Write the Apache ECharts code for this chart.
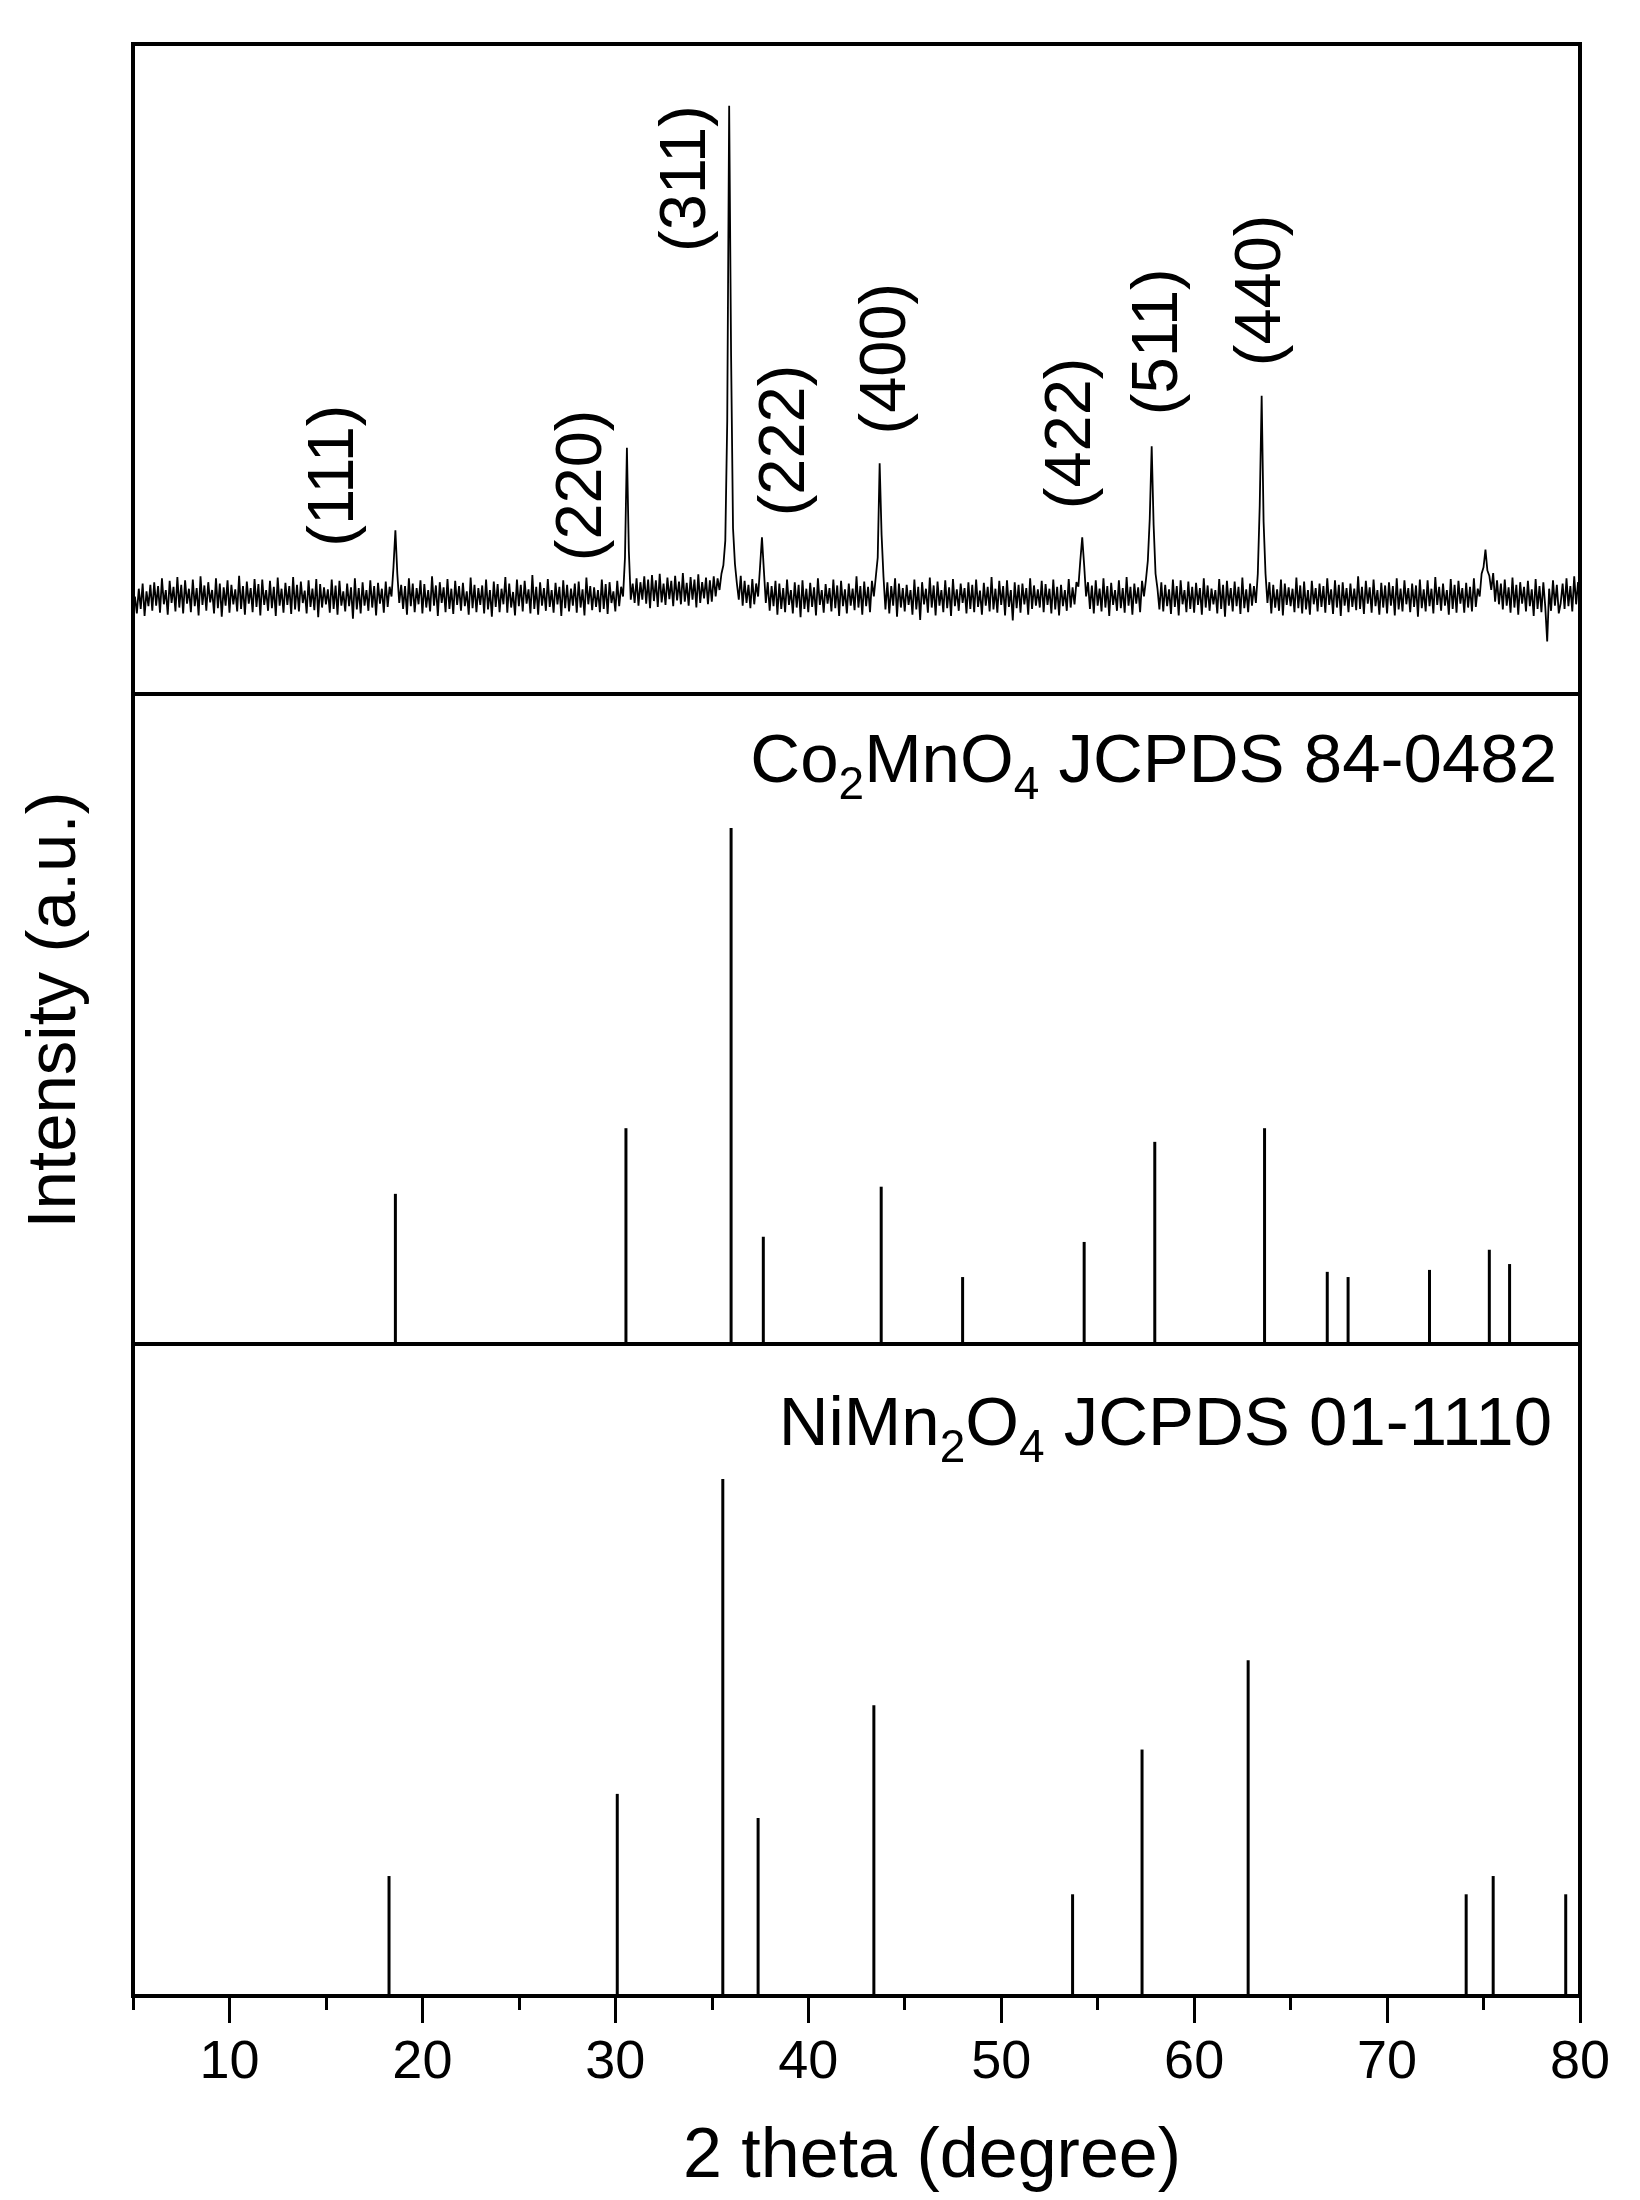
<!DOCTYPE html>
<html><head><meta charset="utf-8">
<script src="https://cdn.jsdelivr.net/npm/echarts@6/dist/echarts.min.js"></script>
<style>html,body{margin:0;padding:0;background:#fff}#c{width:1640px;height:2200px}</style>
</head><body><div id="c"></div>
<script>
// ---- measured XRD pattern (2theta from 5 to 80, step 0.1) ----
const thetaStart = 5, thetaStep = 0.1;
const sampleIntensity = [
118,150,124,162,131,170,120,158,135,168,
128,172,136,166,125,178,138,160,122,174,
140,165,127,180,133,168,124,175,139,162,
126,176,135,163,121,181,137,167,128,172,
141,160,124,178,132,170,119,164,136,175,
125,168,138,161,127,182,131,166,122,173,
139,163,126,177,134,169,121,176,137,160,
128,174,132,165,120,179,136,162,125,171,
137,166,123,180,130,168,127,173,140,159,
124,175,134,162,129,177,118,169,133,164,
138,161,125,176,131,167,122,174,136,158,
127,170,135,164,116,178,130,163,124,172,
136,160,128,175,133,166,121,171,139,162,
125,173,134,165,150,195,252,185,140,168,
131,166,122,178,135,170,126,163,138,175,
124,169,133,160,127,181,136,167,120,172,
140,164,126,177,131,162,123,174,137,166,
128,171,135,158,122,179,132,168,126,163,
137,167,124,176,130,160,119,173,134,169,
126,162,138,180,125,170,133,157,121,176,
135,168,127,174,139,161,124,183,131,165,
122,172,136,163,128,177,134,160,125,171,
138,165,120,175,132,168,127,162,136,170,
125,173,133,161,121,179,138,166,129,164,
134,160,126,176,131,169,123,172,140,158,
127,174,135,165,150,210,379,220,145,170,
140,178,136,172,145,181,139,176,132,183,
143,175,134,185,141,170,137,179,146,174,
135,182,144,173,138,186,142,171,136,180,
145,176,133,184,140,172,147,179,138,175,
142,181,150,178,160,185,198,236,420,905,
520,255,200,170,145,182,136,174,140,168,
132,177,138,170,150,195,241,190,140,172,
128,166,135,174,122,170,131,163,126,176,
137,160,124,172,133,168,118,175,131,162,
126,171,134,164,121,178,137,160,125,169,
139,163,127,176,132,167,120,174,135,161,
124,170,136,162,129,181,133,166,122,173,
135,165,126,174,150,180,210,355,245,180,
130,172,124,166,136,178,119,170,133,163,
127,168,137,160,122,176,130,165,114,172,
138,162,125,179,133,167,121,173,136,160,
126,175,132,164,120,177,135,161,128,170,
140,163,124,172,131,168,126,176,134,159,
122,171,136,165,127,180,130,162,125,174,
137,166,121,175,134,160,113,172,132,168,
125,170,138,163,122,178,131,167,136,161,
133,174,126,169,137,162,124,176,130,165,
121,168,135,160,128,177,133,164,138,172,
165,205,241,198,150,172,131,167,124,175,
136,162,127,178,133,166,120,171,137,160,
128,175,132,163,125,180,136,165,122,170,
139,164,126,174,150,175,205,270,381,260,
185,162,130,172,127,168,135,161,123,176,
134,166,121,175,138,160,126,173,131,165,
125,171,137,163,122,178,133,167,128,162,
138,160,124,177,131,168,119,174,136,163,
127,173,135,165,123,179,132,161,126,170,
136,166,140,185,290,459,265,185,140,172,
124,168,133,161,128,176,121,170,137,164,
135,162,126,179,132,167,124,173,130,160,
122,174,138,163,127,170,134,166,125,178,
137,161,123,175,133,168,120,172,136,163,
126,170,134,162,129,181,131,165,123,174,
139,164,125,176,135,160,122,171,133,167,
124,172,136,166,121,178,130,162,127,175,
138,163,126,170,134,167,119,176,132,161,
127,175,135,162,124,180,137,165,128,170,
136,160,122,177,131,168,125,174,139,163,
125,171,133,165,127,178,134,162,150,185,
195,222,190,182,160,186,142,175,138,170,
130,176,136,164,125,179,133,168,122,172,
139,165,127,174,135,161,120,177,131,166,
126,172,134,81,162,128,175,136,168,124,
140,170,131,178,135,166,127,181,138,172,
150
];

// ---- peak indices (annotations) ----
const hklLabels = ['(111)', '(220)', '(311)', '(222)', '(400)', '(422)', '(511)', '(440)'];
const hklX = [15.49, 28.34, 33.73, 38.86, 44.09, 53.68, 58.19, 63.52];
const hklY = [336, 321, 793, 390, 516, 401, 542, 621];

// ---- reference patterns ----
const co2mno4Pos = [18.6, 30.55, 36.0, 37.67, 43.78, 48.0, 54.3, 57.96, 63.65, 66.9, 67.98, 72.2, 75.3, 76.35];
const co2mno4Int = [23.1, 33.2, 79.4, 16.5, 24.2, 10.3, 15.7, 31.1, 33.2, 11.1, 10.3, 11.4, 14.5, 12.3];
const nimn2o4Pos = [18.27, 30.1, 35.57, 37.4, 43.4, 53.7, 57.3, 62.8, 74.1, 75.5, 79.26];
const nimn2o4Int = [18.4, 31.0, 79.3, 27.3, 44.6, 15.6, 37.8, 51.5, 15.6, 18.4, 15.6];

// ---- axis ticks ----
const majorTicks = [10, 20, 30, 40, 50, 60, 70, 80];
const minorTicks = [5, 15, 25, 35, 45, 55, 65, 75];

const F = '"Liberation Sans", Arial, Helvetica, sans-serif';
const sampleData = sampleIntensity.map((v, i) => [+(thetaStart + i * thetaStep).toFixed(2), v]);
const labelData = hklLabels.map((n, i) => ({ name: n, value: [hklX[i], hklY[i]] }));
const coData = co2mno4Pos.map((p, i) => [p, co2mno4Int[i]]);
const niData = nimn2o4Pos.map((p, i) => [p, nimn2o4Int[i]]);

const gridBase = { left: 133, right: 60, show: true, borderColor: '#000', borderWidth: 4, backgroundColor: 'transparent' };
const hiddenX = (g) => ({ type: 'value', gridIndex: g, min: 5, max: 80, show: false });

const chart = echarts.init(document.getElementById('c'), null, { renderer: 'canvas' });
chart.setOption({
  animation: false,
  backgroundColor: '#fff',
  grid: [
    Object.assign({ top: 44, height: 650 }, gridBase),
    Object.assign({ top: 694, height: 650 }, gridBase),
    Object.assign({ top: 1344, height: 652 }, gridBase)
  ],
  xAxis: [
    hiddenX(0), hiddenX(1),
    { type: 'value', gridIndex: 2, min: 5, max: 80, position: 'bottom',
      axisLine: { show: false }, splitLine: { show: false },
      axisTick: { show: true, length: 27, inside: false, customValues: majorTicks, lineStyle: { color: '#000', width: 3 } },
      axisLabel: { show: true, customValues: majorTicks, margin: 40, fontSize: 54, fontFamily: F, color: '#000' } },
    { type: 'value', gridIndex: 2, min: 5, max: 80, position: 'bottom', offset: 0,
      axisLine: { show: false }, splitLine: { show: false },
      axisTick: { show: true, length: 14, inside: false, customValues: minorTicks, lineStyle: { color: '#000', width: 3 } },
      axisLabel: { show: false } }
  ],
  yAxis: [
    { type: 'value', gridIndex: 0, min: 0, max: 1000, show: false },
    { type: 'value', gridIndex: 1, min: 0, max: 100, show: false },
    { type: 'value', gridIndex: 2, min: 0, max: 100, show: false }
  ],
  series: [
    { type: 'line', xAxisIndex: 0, yAxisIndex: 0, data: sampleData, showSymbol: false, symbol: 'none',
      sampling: 'none', lineStyle: { color: '#000', width: 1.8 }, z: 3 },
    { type: 'scatter', xAxisIndex: 0, yAxisIndex: 0, data: labelData, symbolSize: 1,
      itemStyle: { opacity: 0 },
      label: { show: true, position: 'inside', rotate: 90, formatter: '{b}', fontSize: 65, fontFamily: F, color: '#000', opacity: 1 },
      z: 4 },
    { type: 'bar', xAxisIndex: 1, yAxisIndex: 1, data: coData, barWidth: 3, itemStyle: { color: '#000' } },
    { type: 'bar', xAxisIndex: 2, yAxisIndex: 2, data: niData, barWidth: 3, itemStyle: { color: '#000' } }
  ],
  graphic: [
    { type: 'text', x: 1557, y: 763, z: 10,
      style: { text: '{m|Co}{s|2}{m|MnO}{s|4}{m| JCPDS 84-0482}', align: 'right', verticalAlign: 'middle',
        rich: { m: { fontSize: 69, fontFamily: F, fill: '#000', lineHeight: 80 },
                s: { fontSize: 46, fontFamily: F, fill: '#000', padding: [46, 0, 0, 0] } } } },
    { type: 'text', x: 1552, y: 1426, z: 10,
      style: { text: '{m|NiMn}{s|2}{m|O}{s|4}{m| JCPDS 01-1110}', align: 'right', verticalAlign: 'middle',
        rich: { m: { fontSize: 69, fontFamily: F, fill: '#000', lineHeight: 80 },
                s: { fontSize: 46, fontFamily: F, fill: '#000', padding: [46, 0, 0, 0] } } } },
    { type: 'text', x: 932, y: 2158, z: 10,
      style: { text: '2 theta (degree)', align: 'center', verticalAlign: 'middle', fontSize: 70, fontFamily: F, fill: '#000' } },
    { type: 'text', x: 56, y: 1010, rotation: Math.PI / 2, z: 10,
      style: { text: 'Intensity (a.u.)', align: 'center', verticalAlign: 'middle', fontSize: 69, fontFamily: F, fill: '#000' } }
  ]
});
</script>
</body></html>
